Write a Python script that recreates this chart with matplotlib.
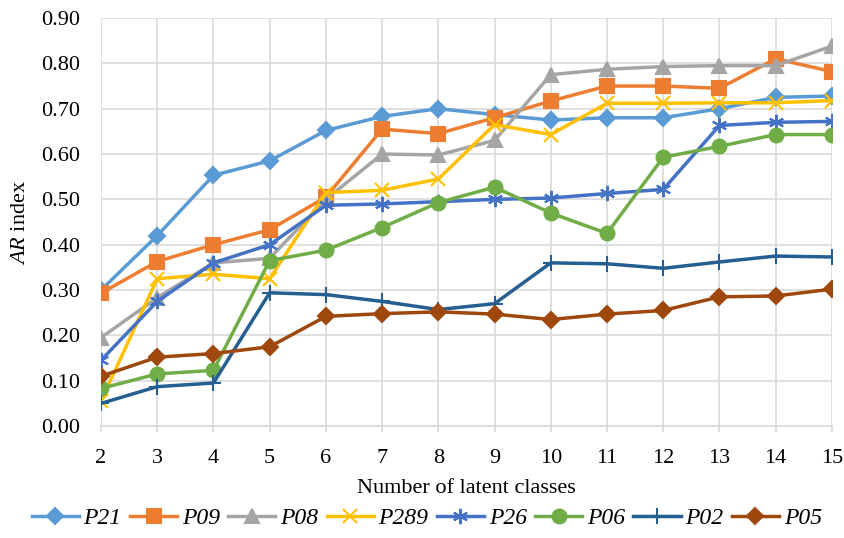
import matplotlib.pyplot as plt
import numpy as np

plt.rcParams['font.family'] = ['Liberation Serif', 'DejaVu Serif']
plt.rcParams['mathtext.fontset'] = 'custom'
plt.rcParams['mathtext.it'] = 'Liberation Serif:italic'
plt.rcParams['mathtext.rm'] = 'Liberation Serif'

# === Data ===
classes = list(range(2, 16))

p21 = [0.300, 0.420, 0.553, 0.585, 0.652, 0.683, 0.700, 0.687, 0.675, 0.680, 0.680, 0.700, 0.725, 0.728]
p09 = [0.293, 0.363, 0.400, 0.433, 0.505, 0.655, 0.645, 0.680, 0.717, 0.750, 0.750, 0.745, 0.810, 0.782]
p08 = [0.195, 0.283, 0.360, 0.370, 0.500, 0.600, 0.598, 0.630, 0.775, 0.787, 0.793, 0.795, 0.795, 0.838]
p289 = [0.055, 0.325, 0.335, 0.325, 0.515, 0.520, 0.545, 0.665, 0.643, 0.712, 0.712, 0.713, 0.713, 0.718]
p26 = [0.145, 0.275, 0.360, 0.400, 0.487, 0.490, 0.495, 0.500, 0.503, 0.513, 0.522, 0.663, 0.670, 0.672]
p06 = [0.083, 0.115, 0.123, 0.365, 0.388, 0.438, 0.493, 0.527, 0.470, 0.425, 0.593, 0.617, 0.643, 0.643]
p02 = [0.050, 0.087, 0.095, 0.294, 0.290, 0.275, 0.257, 0.270, 0.360, 0.358, 0.348, 0.362, 0.375, 0.373]
p05 = [0.110, 0.152, 0.160, 0.175, 0.242, 0.248, 0.252, 0.247, 0.235, 0.247, 0.255, 0.285, 0.287, 0.302]

series = [
    ("P21", p21, "#5B9BD5", "D", 8),
    ("P09", p09, "#ED7D31", "s", 10),
    ("P08", p08, "#A5A5A5", "^", 10),
    ("P289", p289, "#FFC000", "x", 10),
    ("P26", p26, "#4472C4", (6, 2, 0), 11),
    ("P06", p06, "#70AD47", "o", 10),
    ("P02", p02, "#255E91", "+", 11),
    ("P05", p05, "#9E480E", "D", 8),
]

fig = plt.figure(figsize=(8.45, 5.38), dpi=100)
ax = fig.add_axes([0.1195, 0.208, 0.865, 0.7585])

for name, vals, col, mk, ms in series:
    ax.plot(classes, vals, color=col, lw=2.5, marker=mk, ms=ms,
            mew=1.5, label=name, zorder=3)

ax.set_xlim(2, 15)
ax.set_ylim(0, 0.9)
ax.set_xticks(classes)
yt = np.arange(0, 0.91, 0.1)
ax.set_yticks(yt)
ax.set_yticklabels([f"{v:.2f}" for v in yt])
ax.tick_params(axis='y', labelsize=16, length=0, pad=15)
ax.tick_params(axis='x', labelsize=16, length=4.5, color='#D9D9D9', width=1.2, pad=12)

ax.grid(True, color='#D9D9D9', lw=1.2)
ax.set_axisbelow(True)
for s in ['top', 'right', 'left']:
    ax.spines[s].set_visible(False)
ax.spines['bottom'].set_color('#D9D9D9')
ax.spines['bottom'].set_linewidth(1.2)

ax.set_xlabel("Number of latent classes", fontsize=16, labelpad=8)
ax.set_ylabel(r"$AR$ index", fontsize=16, labelpad=8)

leg = fig.legend(loc='center', ncol=8, frameon=False,
                 bbox_to_anchor=(0.505, 0.037), handlelength=2.0,
                 columnspacing=0.35, handletextpad=0.2, borderpad=0.2,
                 prop={'family': 'Liberation Serif', 'style': 'italic', 'size': 17})

fig.savefig("out.png", dpi=100)
